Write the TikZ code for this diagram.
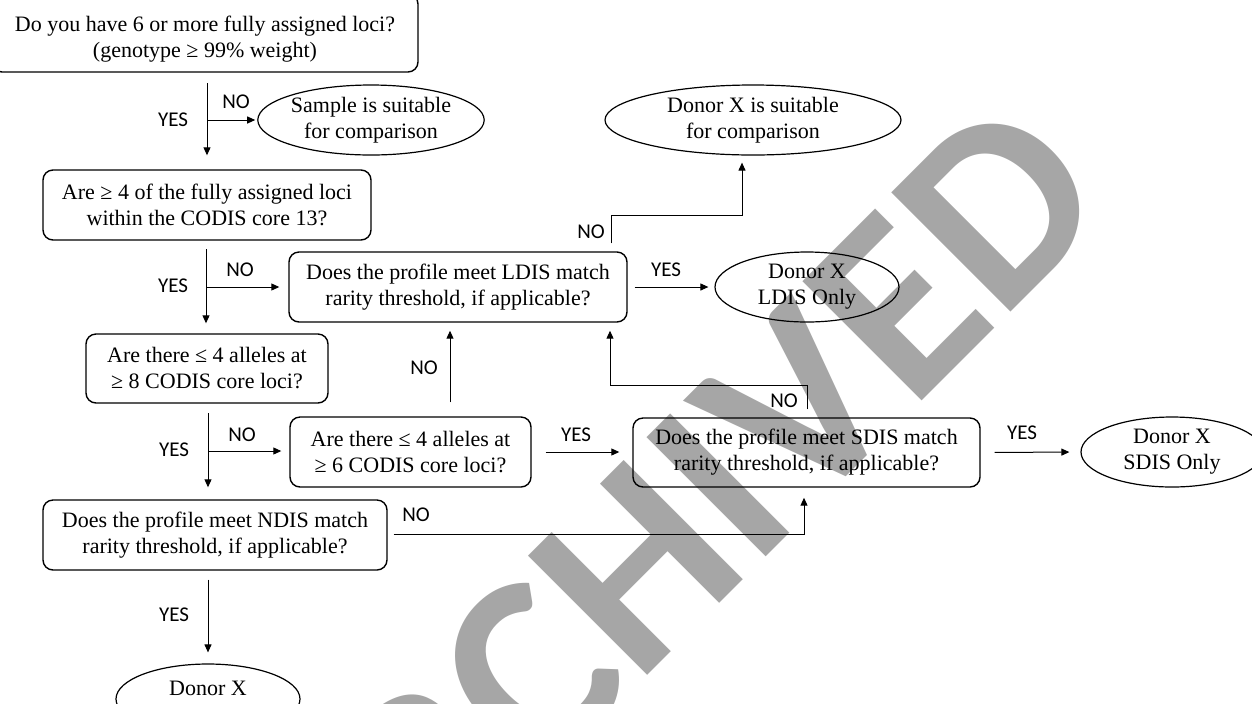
\documentclass[tikz,border=0pt]{standalone}
\usepackage{fontspec}
\setmainfont{Liberation Serif}
\newfontfamily\lblfont{Carlito}
\newfontfamily\wmfont{Carlito}
\usetikzlibrary{shapes.geometric,arrows.meta}
\definecolor{wmgray}{HTML}{A6A6A6}
\begin{document}
\begin{tikzpicture}[x=0.5pt,y=-0.5pt,
  txt/.style={font=\fontsize{11}{13}\selectfont, align=center, inner sep=0pt},
  qbox/.style={txt, draw, rounded corners=5pt, line width=0.7pt},
  oval/.style={txt, draw, ellipse, line width=0.6pt, inner xsep=0pt, inner ysep=-4pt},
  lbl/.style={font=\lblfont\fontsize{10.5}{12}\selectfont, inner sep=0pt},
  arr/.style={line width=0.5pt, -{Triangle[length=4pt,width=3.5pt]}},
  wmark/.style={text=wmgray, font=\wmfont\bfseries\fontsize{130}{130}\selectfont, inner sep=0pt}]
\useasboundingbox (0,0) rectangle (1252,703);
\clip (0,0) rectangle (1252,703);

% watermark
\node[wmark, rotate=45, anchor=base east] (wm) at (1117,206) {ARCHIVED};

% boxes
\node[qbox, minimum width=213pt, minimum height=39pt] (b1) at (205,33) {};
\node[txt] (b1t) at (205,39) {Do you have 6 or more fully assigned loci?\\(genotype ≥ 99\% weight)};
\node[qbox, minimum width=164pt, minimum height=35pt] (b2) at (207,205) {Are ≥ 4 of the fully assigned loci\\within the CODIS core 13?};
\node[qbox, minimum width=121pt, minimum height=34.5pt] (b3) at (207,368.5) {Are there ≤ 4 alleles at\\≥ 8 CODIS core loci?};
\node[qbox, minimum width=169pt, minimum height=35pt] (b4) at (458,287) {Does the profile meet LDIS match\\rarity threshold, if applicable?};
\node[qbox, minimum width=120.5pt, minimum height=35pt] (b5) at (410.5,452) {Are there ≤ 4 alleles at\\≥ 6 CODIS core loci?};
\node[qbox, minimum width=173.5pt, minimum height=34.5pt] (b6) at (806.5,452.5) {Does the profile meet SDIS match\\rarity threshold, if applicable?};
\node[qbox, minimum width=172pt, minimum height=35pt] (b7) at (215,535) {Does the profile meet NDIS match\\rarity threshold, if applicable?};

% ovals
\node[oval, minimum width=85pt, minimum height=35pt] (e1) at (371,120) {Sample is suitable\\for comparison};
\node[oval, minimum width=148pt, minimum height=35pt] (e2) at (753,120) {Donor X is suitable\\for comparison};
\node[oval, minimum width=92pt, minimum height=35pt] (e3) at (807,287) {Donor X\\LDIS Only};
\node[oval, minimum width=91pt, minimum height=35pt] (e4) at (1172,452) {Donor X\\SDIS Only};
\node[oval, minimum width=92pt, minimum height=35pt] (e5) at (208,699) {};
\node[txt] (e5t) at (208,688) {Donor X};

% connector 1
\coordinate (c1) at (207,83);
\coordinate (j1) at (207,120);
\draw[arr, shorten >=7pt] (c1) -- (c1 |- b2.north);
\draw[arr, shorten >=1pt] (j1) -- (e1.west);
\node[lbl] (y1) at (173,120) {YES};
\node[lbl] (n1) at (236,102) {NO};

% connector 2
\coordinate (c2) at (206,249);
\coordinate (j2) at (206,287);
\draw[arr, shorten >=5pt] (c2) -- (c2 |- b3.north);
\draw[arr, shorten >=4.5pt] (j2) -- (b4.west);
\node[lbl] (y2) at (173,286) {YES};
\node[lbl] (n2) at (240,270) {NO};

% connector 3
\coordinate (c3) at (208,413);
\coordinate (j3) at (208,451);
\draw[arr, shorten >=6pt] (c3) -- (c3 |- b7.north);
\draw[arr, shorten >=4pt] (j3) -- (j3 -| b5.west);
\node[lbl] (y3) at (174,450) {YES};
\node[lbl] (n3) at (242,435) {NO};

% LDIS yes
\draw[arr, shorten <=3.5pt, shorten >=3pt] (b4.east) -- (e3.west);
\node[lbl] (y4) at (666,270) {YES};

% LDIS no -> donor suitable
\coordinate (k5a) at (611,215);
\coordinate (k5b) at (742,215);
\draw[arr, shorten <=4pt, shorten >=3.5pt] (k5a |- b4.north) -- (k5a) -- (k5b) -- (k5b |- e2.south);
\node[lbl] (n5) at (591,232) {NO};

% b5 no -> LDIS
\coordinate (k6) at (450,370);
\draw[arr, shorten <=7pt, shorten >=4pt] (k6 |- b5.north) -- (k6 |- b4.south);
\node[lbl] (n6) at (424,368) {NO};

% b5 yes -> SDIS
\draw[arr, shorten <=7pt, shorten >=6.5pt] (b5.east) -- (b5.east -| b6.west);
\node[lbl] (y7) at (576,435) {YES};

% SDIS no -> LDIS
\coordinate (k8a) at (807,385);
\coordinate (k8b) at (610,385);
\draw[arr, shorten <=4pt, shorten >=4pt] (k8a |- b6.north) -- (k8a) -- (k8b) -- (k8b |- b4.south);
\node[lbl] (n8) at (784,401) {NO};

% SDIS yes -> donor SDIS
\draw[arr, shorten <=7pt, shorten >=5.5pt] (b6.east) -- (e4.west);
\node[lbl] (y9) at (1022,433) {YES};

% NDIS no -> SDIS
\coordinate (k10) at (804,534);
\draw[arr, shorten <=3pt, shorten >=5pt] (b7.east |- k10) -- (k10) -- (k10 |- b6.south);
\node[lbl] (n10) at (416,515) {NO};

% NDIS yes -> donor
\draw[arr, shorten <=4.5pt, shorten >=5.5pt] (c3 |- b7.south) -- (c3 |- e5.north);
\node[lbl] (y11) at (174,615) {YES};
\end{tikzpicture}
\end{document}
